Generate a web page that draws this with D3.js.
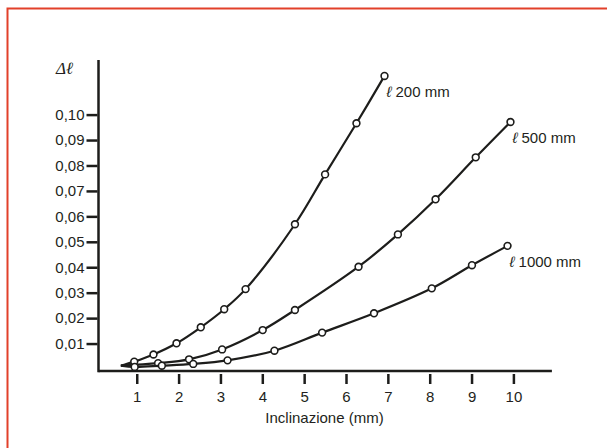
<!DOCTYPE html>
<html>
<head>
<meta charset="utf-8">
<script src="https://cdn.jsdelivr.net/npm/d3@7"></script>
<style>
  body { margin: 0; background: #fff; }
  svg text { font-family: "Liberation Sans", Arial, Helvetica, sans-serif; fill: #231f20; }
</style>
</head>
<body>
<div class="chart"></div>
<script>
// data
var xTicks = [1, 2, 3, 4, 5, 6, 7, 8, 9, 10];
var yTicks = [0.01, 0.02, 0.03, 0.04, 0.05, 0.06, 0.07, 0.08, 0.09, 0.10];

// all three curves leave from the same spot
var startPoint = [0.62, 0.0013];

var x200 = [0.94, 1.40, 1.95, 2.53, 3.09, 3.60, 4.78, 5.50, 6.25, 6.92];
var y200 = [0.0029, 0.0057, 0.0101, 0.0164, 0.0235, 0.0314, 0.0569, 0.0765, 0.0966, 0.1152];

var x500 = [1.51, 2.25, 3.04, 4.01, 4.78, 6.30, 7.24, 8.14, 9.10, 9.93];
var y500 = [0.0023, 0.0038, 0.0077, 0.0153, 0.0232, 0.0402, 0.0529, 0.0667, 0.0832, 0.0971];

var x1000 = [0.95, 1.60, 2.35, 3.17, 4.29, 5.43, 6.67, 8.05, 9.01, 9.86];
var y1000 = [0.0008, 0.0013, 0.0020, 0.0034, 0.0072, 0.0143, 0.0219, 0.0317, 0.0408, 0.0484];

var seriesNames = ["200 mm", "500 mm", "1000 mm"];

var svgWidth = 607;
var svgHeight = 448;
var ink = "#1d1d1b";

var svg = d3.select(".chart")
  .append("svg")
  .attr("width", svgWidth)
  .attr("height", svgHeight);

// red frame (runs off right and bottom)
svg.append("rect")
  .attr("x", 7.5)
  .attr("y", 8.5)
  .attr("width", 640)
  .attr("height", 480)
  .attr("fill", "none")
  .attr("stroke", "#e2402a")
  .attr("stroke-width", 2);

var x = d3.scaleLinear().domain([0, 10]).range([94.9, 513.4]);
var y = d3.scaleLinear().domain([0, 0.10]).range([369, 114.6]);

var axisY = 371;
var axisX = 98.5;

// axis lines
svg.append("line")
  .attr("x1", axisX).attr("x2", x(10.92))
  .attr("y1", axisY).attr("y2", axisY)
  .attr("stroke", ink).attr("stroke-width", 2.5);

svg.append("line")
  .attr("x1", axisX).attr("x2", axisX)
  .attr("y1", y(0.1215)).attr("y2", axisY + 1.2)
  .attr("stroke", ink).attr("stroke-width", 2.5);

// y axis ticks
var yAxis = svg.append("g")
  .attr("transform", "translate(" + (axisX - 1) + ",0)")
  .call(d3.axisLeft(y)
    .tickValues(yTicks)
    .tickSize(11)
    .tickPadding(2)
    .tickFormat(function (d) { return d3.format(".2f")(d).replace(".", ","); }));
yAxis.select(".domain").remove();
yAxis.selectAll(".tick line").attr("stroke", ink).attr("stroke-width", 2.5);
yAxis.selectAll(".tick text")
  .attr("fill", "#231f20")
  .style("font-size", "15px")
  .style("font-family", "'Liberation Sans', Arial, sans-serif");

// x axis ticks, hanging a little below the line
var xAxis = svg.append("g")
  .attr("transform", "translate(0," + (axisY + 3) + ")")
  .call(d3.axisBottom(x)
    .tickValues(xTicks)
    .tickSize(10)
    .tickPadding(7)
    .tickFormat(d3.format("d")));
xAxis.select(".domain").remove();
xAxis.selectAll(".tick line").attr("stroke", ink).attr("stroke-width", 2.5);
xAxis.selectAll(".tick text")
  .attr("fill", "#231f20")
  .style("font-size", "15px")
  .style("font-family", "'Liberation Sans', Arial, sans-serif");

// axis titles
svg.append("text")
  .attr("x", 324.5)
  .attr("y", 423)
  .attr("text-anchor", "middle")
  .style("font-size", "15px")
  .text("Inclinazione (mm)");

svg.append("text")
  .attr("x", 56)
  .attr("y", 73.5)
  .style("font-size", "17px")
  .style("font-style", "italic")
  .style("font-family", "'Liberation Serif', 'DejaVu Serif', serif")
  .text("Δℓ");

// curves
var series = [
  { name: seriesNames[0], xs: x200, ys: y200 },
  { name: seriesNames[1], xs: x500, ys: y500 },
  { name: seriesNames[2], xs: x1000, ys: y1000 }
];

var line = d3.line()
  .x(function (d) { return x(d[0]); })
  .y(function (d) { return y(d[1]); })
  .curve(d3.curveCatmullRom.alpha(0.5));

series.forEach(function (s) {
  var pts = s.xs.map(function (v, i) { return [v, s.ys[i]]; });

  svg.append("path")
    .datum([startPoint].concat(pts))
    .attr("d", line)
    .attr("fill", "none")
    .attr("stroke", ink)
    .attr("stroke-width", 2.2);

  svg.append("g")
    .selectAll("circle")
    .data(pts)
    .join("circle")
    .attr("cx", function (d) { return x(d[0]); })
    .attr("cy", function (d) { return y(d[1]); })
    .attr("r", 3.4)
    .attr("fill", "#fff")
    .attr("stroke", ink)
    .attr("stroke-width", 1.6);

  var last = pts[pts.length - 1];
  var label = svg.append("text")
    .attr("x", x(last[0]) + 2)
    .attr("y", y(last[1]) + 21)
    .style("font-size", "15px");
  label.append("tspan")
    .style("font-style", "italic")
    .text("ℓ");
  label.append("tspan")
    .text(" " + s.name);
});
</script>
</body>
</html>
